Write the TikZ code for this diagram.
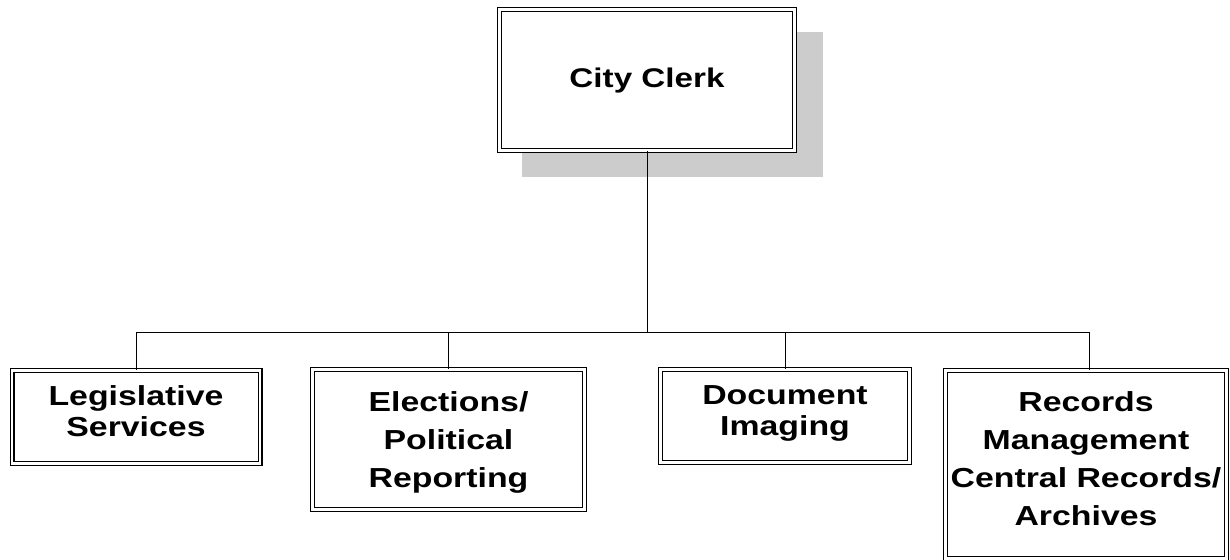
\documentclass[tikz,border=0pt]{standalone}
\usepackage{fontspec}
\setmainfont{Liberation Sans}[FakeStretch=1.23]
% text block whose last baseline sits #1 below the node centre
\newcommand{\boxtext}[2]{\raisebox{-#1}[0pt][0pt]{\begin{tabular}[b]{@{}c@{}}#2\end{tabular}}}
\begin{document}
\begin{tikzpicture}[x=1pt,y=-1pt,
  orgbox/.style={draw, double, double distance=2.4pt, line width=1.3pt, fill=white,
    inner sep=0pt, font=\bfseries\fontsize{27.5}{31}\selectfont},
  tallbox/.style={orgbox, font=\bfseries\fontsize{27.5}{38}\selectfont},
  wire/.style={line width=1pt},
  shadow/.style={fill=black!20, draw=none}]
\useasboundingbox (0,0) rectangle (1230,559);

% shadow behind the top box
\fill[shadow] (522,32) rectangle (823,177);

% top box
\node[orgbox, minimum width=295pt, minimum height=141pt,
      font=\bfseries\fontsize{27}{31}\selectfont] (clerk) at (647,80)
  {\boxtext{8pt}{City Clerk}};

% division boxes
\node[orgbox, minimum width=248pt, minimum height=93pt] (leg) at (136,417)
  {\boxtext{19pt}{Legislative\\Services}};
\node[tallbox, minimum width=272pt, minimum height=140pt] (elec) at (448.5,439.5)
  {\boxtext{47.5pt}{Elections/\\Political\\Reporting}};
\node[orgbox, minimum width=249pt, minimum height=93pt] (doc) at (785,416)
  {\boxtext{19pt}{Document\\Imaging}};
\node[tallbox, minimum width=281pt, minimum height=188pt] (rec) at (1086,464.5)
  {\boxtext{60.5pt}{Records\\Management\\Central Records/\\Archives}};

% connectors
\coordinate (hub) at (647,332);
\coordinate (busL) at (136,332);
\coordinate (busR) at (1089,332);
\draw[wire] (clerk.south) -- (hub);
\draw[wire] (busL) -- (busR);
\draw[wire] (busL) -- (leg.north);
\draw[wire] (elec.north |- hub) -- (elec.north);
\draw[wire] (doc.north |- hub) -- (doc.north);
\draw[wire] (busR) -- (busR |- rec.north);
\end{tikzpicture}
\end{document}
